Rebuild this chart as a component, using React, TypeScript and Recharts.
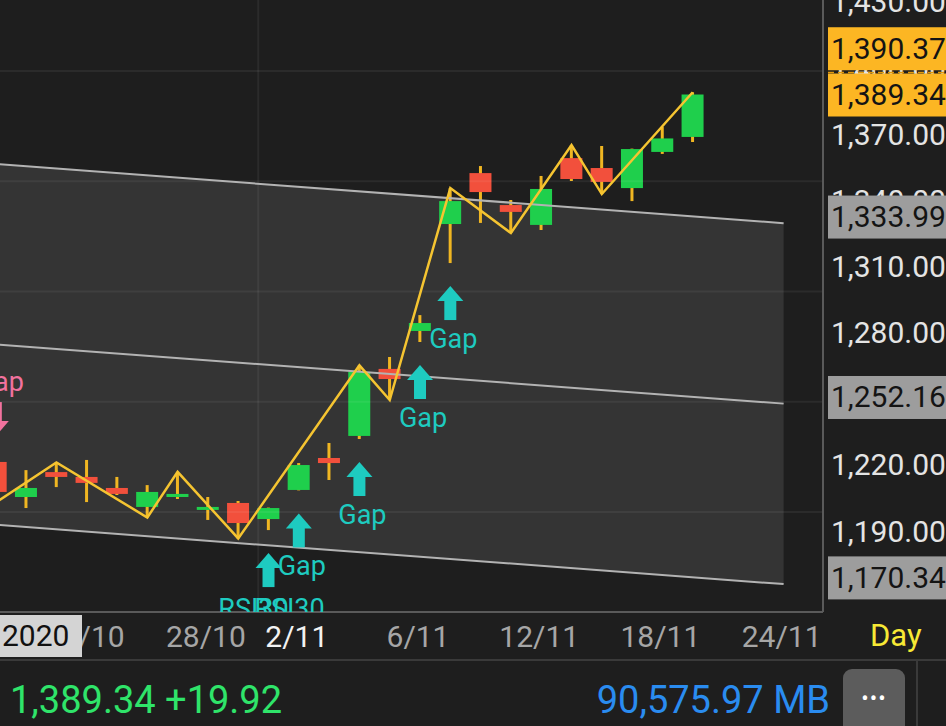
import React from 'react';
import { ComposedChart, Bar, Line, Area, Scatter, XAxis, YAxis, ReferenceLine } from 'recharts';

// trading days (last four are future slots on the axis)
const dates = [
  '19/10', '20/10', '21/10', '22/10', '23/10', '26/10', '27/10', '28/10', '29/10', '30/10',
  '2/11', '3/11', '4/11', '5/11', '6/11', '9/11', '10/11', '11/11', '12/11', '13/11',
  '16/11', '17/11', '18/11', '19/11', '20/11', '23/11', '24/11', '25/11',
];

const opens = [1222.7, 1206.8, 1218.1, 1215.9, 1210.9, 1202.3, 1206.8, 1201.4, 1204.1, 1196.8, 1210.0, 1224.5, 1234.5, 1264.9, 1282.1, 1330.6, 1353.7, 1339.2, 1330.2, 1360.5, 1356.0, 1346.9, 1363.3, 1370.1];
const highs = [1224.0, 1219.0, 1222.5, 1223.6, 1215.9, 1212.2, 1218.2, 1206.8, 1205.0, 1202.0, 1222.2, 1231.3, 1266.5, 1270.3, 1289.3, 1346.9, 1356.9, 1341.5, 1352.4, 1366.4, 1366.0, 1364.8, 1374.6, 1390.37];
const lows = [1204.3, 1201.8, 1211.3, 1204.5, 1207.7, 1197.5, 1205.9, 1196.4, 1188.0, 1191.8, 1209.8, 1214.5, 1233.1, 1250.8, 1277.1, 1312.9, 1331.1, 1326.5, 1327.9, 1350.1, 1344.2, 1341.0, 1362.4, 1367.8];
const closes = [1209.1, 1210.9, 1215.9, 1213.2, 1208.2, 1209.1, 1208.2, 1202.3, 1195.0, 1201.8, 1221.3, 1222.2, 1263.5, 1260.3, 1285.7, 1341.0, 1345.1, 1336.1, 1346.5, 1351.0, 1349.7, 1364.6, 1369.42, 1389.34];

// zigzag pivots
const pivotIdx = [0, 2, 5, 6, 8, 12, 13, 15, 17, 19, 20, 23];
const pivotVal = [1204.3, 1222.5, 1197.5, 1218.2, 1188.0, 1266.5, 1250.8, 1346.9, 1326.5, 1366.4, 1344.2, 1390.37];

// trend channel end points
const channelIdx = [0, 26];
const channelTop = [1357.8, 1331.0];
const channelMid = [1276.0, 1249.15];
const channelBot = [1194.2, 1167.3];
const channelLabels = [1333.99, 1252.16, 1170.34];

// signals
const gapUpIdx = [10, 12, 14, 15];
const rsiIdx = [9];
const gapDownIdx = [0];

const yTicks = [1190, 1220, 1250, 1280, 1310, 1340, 1370, 1400, 1430];
const gridValues = [1200, 1250, 1300, 1350, 1400];
const xTicks = [3, 7, 10, 14, 18, 22, 26];

const lastHigh = 1390.37;
const lastClose = 1389.34;
const change = 19.92;
const volume = '90,575.97 MB';
const priceTags = [...channelLabels, lastHigh, lastClose];

const BG = '#1e1e1e';
const GREEN = '#1fcf4c';
const RED = '#f2503c';
const WICK = '#f0b622';
const ZIG = '#f5c431';
const CYAN = '#1ecbc0';
const PINK = '#f2729e';

const candles = opens.map((o, i) => ({ i, open: o, high: highs[i], low: lows[i], close: closes[i] }));
const pivots = pivotIdx.map((i, k) => ({ i, v: pivotVal[k] }));
const channel = channelIdx.map((i, k) => ({
  i,
  top: channelTop[k],
  mid: channelMid[k],
  bot: channelBot[k],
  band: [channelBot[k], channelTop[k]],
}));
const gapUps = gapUpIdx.map((i) => ({ i, v: lows[i] }));
const rsis = rsiIdx.map((i) => ({ i, v: lows[i] }));
const gapDowns = gapDownIdx.map((i) => ({ i, v: highs[i] }));

const fmt = (v: number) => v.toLocaleString('en-US', { minimumFractionDigits: 2, maximumFractionDigits: 2 });

function Candle(props: any) {
  const { x, y, width, height, payload } = props;
  if (!payload || height == null) return null;
  const { open, close, high, low } = payload;
  const k = height / (high - low);
  const yo = y + (high - open) * k;
  const yc = y + (high - close) * k;
  const top = Math.min(yo, yc);
  const h = Math.max(Math.abs(yo - yc), 3);
  const cx = x + width / 2;
  return (
    <g>
      <line x1={cx} x2={cx} y1={y} y2={y + height} stroke={WICK} strokeWidth={3} />
      <rect x={x} y={top} width={width} height={h} fill={close >= open ? GREEN : RED} />
    </g>
  );
}

function upArrow(cx: number, top: number, color: string) {
  return (
    <g fill={color}>
      <polygon points={`${cx - 13},${top + 15} ${cx},${top} ${cx + 13},${top + 15}`} />
      <rect x={cx - 6} y={top + 14} width={12} height={20} />
    </g>
  );
}

function downArrow(cx: number, bottom: number, color: string) {
  return (
    <g fill={color}>
      <polygon points={`${cx - 13},${bottom - 15} ${cx},${bottom} ${cx + 13},${bottom - 15}`} />
      <rect x={cx - 6} y={bottom - 34} width={12} height={20} />
    </g>
  );
}

const GapUp = (props: any) => {
  const { cx, cy } = props;
  return (
    <g>
      {upArrow(cx, cy + 23, CYAN)}
      <text x={cx + 3} y={cy + 76} fill={CYAN} fontSize={27} textAnchor="middle" dominantBaseline="central">Gap</text>
    </g>
  );
};

const RsiUp = (props: any) => {
  const { cx, cy } = props;
  return (
    <g>
      {upArrow(cx, cy + 23, CYAN)}
      {[-15, 21].map((dx) => (
        <text key={dx} x={cx + dx} y={cy + 79} fill={CYAN} fontSize={27} textAnchor="middle" dominantBaseline="central">RSI30</text>
      ))}
    </g>
  );
};

const GapDown = (props: any) => {
  const { cx, cy } = props;
  return (
    <g>
      {downArrow(cx, cy - 23, PINK)}
      <text x={cx + 4} y={cy - 77} fill={PINK} fontSize={27} textAnchor="middle" dominantBaseline="central">Gap</text>
    </g>
  );
};

// price tags come after the plain ticks in the tick list, so they paint over them
const YTick = (props: any) => {
  const v = props.payload.value;
  if (!priceTags.includes(v)) {
    return (
      <text x={props.x + 8} y={props.y - 3} fill="#e4e4e4" fontSize={30} dominantBaseline="central">
        {fmt(v)}
      </text>
    );
  }
  const yellow = v === lastHigh || v === lastClose;
  const y = props.y + (v === lastHigh ? -44 : 0);
  const x = props.x + 5;
  return (
    <g>
      <rect x={x} y={y - 21} width={140} height={43} fill={yellow ? '#fcb623' : '#9d9d9d'} />
      {v === lastClose && (
        <line x1={x} x2={x + 140} y1={y - 22} y2={y - 22} stroke="#e39a0c" strokeWidth={1.5} strokeDasharray="6 4" />
      )}
      <text x={x + 3} y={y} fill="#141414" fontSize={30} dominantBaseline="central">{fmt(v)}</text>
    </g>
  );
};

const XTick = (props: any) => {
  const i = props.payload.value;
  const d = dates[i];
  const monthStart = i > 0 && d.split('/')[1] !== dates[i - 1].split('/')[1];
  return (
    <text x={props.x - 2} y={props.y + 24} fill={monthStart ? '#f2f2f2' : '#a6a6a6'} fontSize={30} textAnchor="middle" dominantBaseline="central">
      {d}
    </text>
  );
};

export default function App() {
  return (
    <div style={{ position: 'fixed', left: 0, top: 0, width: 946, height: 726, background: BG, overflow: 'hidden', fontFamily: 'Roboto, sans-serif' }}>
      <div style={{ position: 'absolute', left: -35, top: 0 }}>
        <ComposedChart width={981} height={660} data={candles} margin={{ top: 0, right: 0, bottom: 0, left: 0 }}>
          <XAxis
            dataKey="i"
            type="number"
            domain={[-1.017, 27.3]}
            allowDataOverflow
            ticks={xTicks}
            tick={<XTick />}
            tickLine={false}
            tickSize={0}
            tickMargin={0}
            height={48}
            axisLine={{ stroke: '#5a5a5a', strokeWidth: 2 }}
            interval={0}
          />
          <YAxis
            orientation="right"
            type="number"
            domain={[1154.65, 1432.2]}
            allowDataOverflow
            ticks={[...yTicks, ...priceTags]}
            tick={<YTick />}
            tickLine={false}
            tickSize={0}
            tickMargin={0}
            width={123}
            axisLine={{ stroke: '#5a5a5a', strokeWidth: 2 }}
            interval={0}
          />
          {gridValues.map((v) => (
            <ReferenceLine key={v} y={v} stroke="rgba(255,255,255,0.06)" strokeWidth={2} />
          ))}
          <ReferenceLine x={8.66} stroke="rgba(255,255,255,0.06)" strokeWidth={2} />
          <Area data={channel} dataKey="band" type="linear" stroke="none" fill="rgba(255,255,255,0.1)" fillOpacity={1} dot={false} activeDot={false} isAnimationActive={false} />
          <Line data={channel} dataKey="top" type="linear" stroke="#b3b3b3" strokeWidth={2} dot={false} activeDot={false} isAnimationActive={false} />
          <Line data={channel} dataKey="mid" type="linear" stroke="#b3b3b3" strokeWidth={2} dot={false} activeDot={false} isAnimationActive={false} />
          <Line data={channel} dataKey="bot" type="linear" stroke="#b3b3b3" strokeWidth={2} dot={false} activeDot={false} isAnimationActive={false} />
          <Bar dataKey={(d: any) => [d.low, d.high]} barSize={22} shape={<Candle />} isAnimationActive={false} />
          <Line data={pivots} dataKey="v" type="linear" stroke={ZIG} strokeWidth={2.5} dot={false} activeDot={false} isAnimationActive={false} />
          <Scatter data={gapUps} dataKey="v" shape={<GapUp />} isAnimationActive={false} />
          <Scatter data={rsis} dataKey="v" shape={<RsiUp />} isAnimationActive={false} />
          <Scatter data={gapDowns} dataKey="v" shape={<GapDown />} isAnimationActive={false} />
        </ComposedChart>
      </div>

      <div style={{ position: 'absolute', left: 0, top: 615, width: 82, height: 42, background: '#d4d4d4', color: '#111', fontSize: 30, lineHeight: '42px', paddingLeft: 2, boxSizing: 'border-box' }}>2020</div>
      <div style={{ position: 'absolute', left: 870, top: 617, color: '#f7e935', fontSize: 31, lineHeight: '38px' }}>Day</div>

      <div style={{ position: 'absolute', left: 0, top: 659, width: 946, height: 2, background: '#3a3a3a' }} />
      <div style={{ position: 'absolute', left: 10, top: 680, height: 40, display: 'flex', alignItems: 'center', color: '#2fe46a', fontSize: 38 }}>
        {fmt(lastClose)} +{fmt(change)}
      </div>
      <div style={{ position: 'absolute', right: 116, top: 680, height: 40, display: 'flex', alignItems: 'center', color: '#2a8cf0', fontSize: 38 }}>
        {volume}
      </div>
      <div style={{ position: 'absolute', left: 843, top: 669, width: 62, height: 70, borderRadius: 9, background: '#5c5c5c', color: '#fff', fontSize: 22, textAlign: 'center', lineHeight: '60px', letterSpacing: 1 }}>
        •••
      </div>
      <div style={{ position: 'absolute', left: 916, top: 661, width: 2, height: 65, background: '#3a3a3a' }} />
    </div>
  );
}
